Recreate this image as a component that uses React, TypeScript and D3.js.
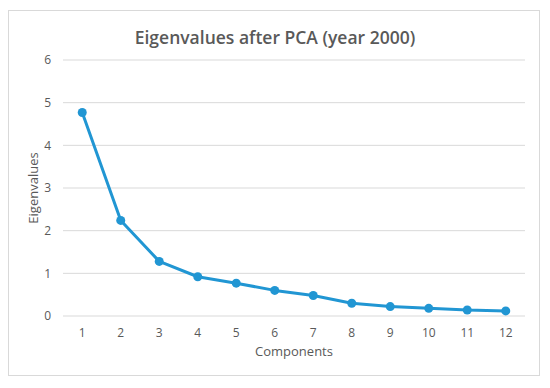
import React, { useRef, useEffect } from 'react'
import * as d3 from 'd3'

const components = ['1', '2', '3', '4', '5', '6', '7', '8', '9', '10', '11', '12']
const eigenvalues = [4.77, 2.24, 1.28, 0.92, 0.77, 0.6, 0.48, 0.3, 0.22, 0.18, 0.14, 0.12]
const yTicks = [0, 1, 2, 3, 4, 5, 6]

export default function App() {
  const svgRef = useRef<SVGSVGElement>(null)

  useEffect(() => {
    if (!svgRef.current) return
    const svg = d3.select(svgRef.current)
    svg.selectAll('*').remove()

    const width = 550
    const height = 388
    const margin = { top: 60, right: 25, bottom: 72, left: 63 }
    const font = 'Open Sans, Lato, sans-serif'
    const gray = '#595959'
    const blue = '#2196d3'

    svg.append('rect')
      .attr('width', width).attr('height', height).attr('fill', '#fff')

    // chart border
    svg.append('rect')
      .attr('x', 8.5).attr('y', 10.5)
      .attr('width', 531).attr('height', 365)
      .attr('fill', 'none').attr('stroke', '#d9d9d9')

    const x = d3.scaleBand()
      .domain(components)
      .range([margin.left, width - margin.right])

    const y = d3.scaleLinear()
      .domain([0, 6])
      .range([height - margin.bottom, margin.top])

    // gridlines
    svg.append('g')
      .selectAll('line')
      .data(yTicks)
      .enter().append('line')
      .attr('x1', margin.left).attr('x2', width - margin.right)
      .attr('y1', d => y(d)).attr('y2', d => y(d))
      .attr('stroke', '#d9d9d9').attr('stroke-width', 1)

    // y tick labels
    svg.append('g')
      .selectAll('text')
      .data(yTicks)
      .enter().append('text')
      .attr('x', 51).attr('y', d => y(d))
      .attr('dy', '0.35em')
      .attr('text-anchor', 'end')
      .attr('font-family', font).attr('font-size', 12).attr('fill', gray)
      .text(d => d)

    // x tick labels
    svg.append('g')
      .selectAll('text')
      .data(components)
      .enter().append('text')
      .attr('x', d => x(d)! + x.bandwidth() / 2)
      .attr('y', y(0) + 21)
      .attr('text-anchor', 'middle')
      .attr('font-family', font).attr('font-size', 12).attr('fill', gray)
      .text(d => d)

    // title
    svg.append('text')
      .attr('x', 275).attr('y', 44)
      .attr('text-anchor', 'middle')
      .attr('font-family', font).attr('font-size', 17.5).attr('font-weight', 600)
      .attr('fill', gray)
      .text('Eigenvalues after PCA (year 2000)')

    // axis titles
    svg.append('text')
      .attr('x', 294).attr('y', 356)
      .attr('text-anchor', 'middle')
      .attr('font-family', font).attr('font-size', 13).attr('fill', gray)
      .text('Components')

    svg.append('text')
      .attr('transform', `translate(38,${y(3)}) rotate(-90)`)
      .attr('text-anchor', 'middle')
      .attr('font-family', font).attr('font-size', 13).attr('fill', gray)
      .text('Eigenvalues')

    const data = components.map((c, i) => ({ c, v: eigenvalues[i] }))
    const line = d3.line<{ c: string; v: number }>()
      .x(d => x(d.c)! + x.bandwidth() / 2)
      .y(d => y(d.v))

    svg.append('path')
      .datum(data)
      .attr('d', line)
      .attr('fill', 'none')
      .attr('stroke', blue)
      .attr('stroke-width', 3)
      .attr('stroke-linejoin', 'round')

    svg.append('g')
      .selectAll('circle')
      .data(data)
      .enter().append('circle')
      .attr('cx', d => x(d.c)! + x.bandwidth() / 2)
      .attr('cy', d => y(d.v))
      .attr('r', 4.5)
      .attr('fill', blue)
  }, [])

  return (
    <svg ref={svgRef} width={550} height={388}
      style={{ position: 'absolute', left: 0, top: 0 }} />
  )
}
